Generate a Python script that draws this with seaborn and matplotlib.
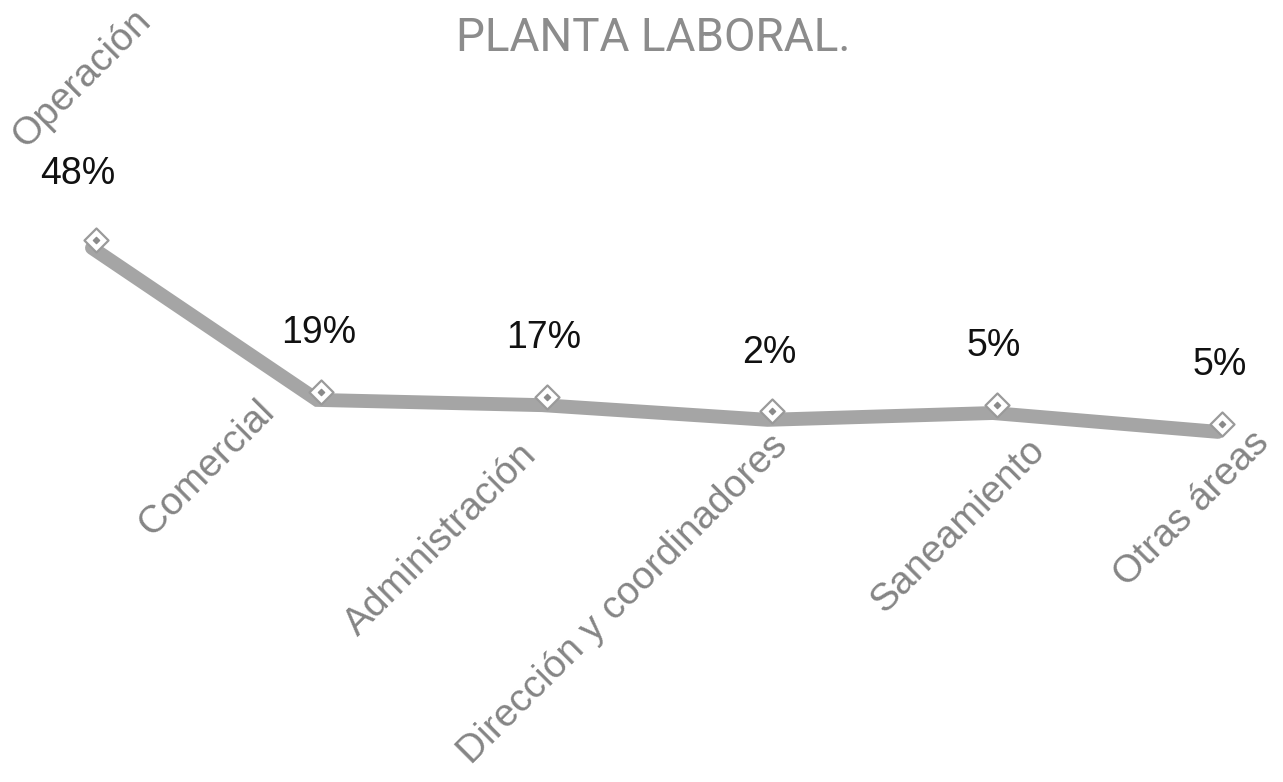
import numpy as np
import pandas as pd
import seaborn as sns
import matplotlib.pyplot as plt
import matplotlib.transforms as mtransforms

# %%
areas = ["Operación", "Comercial", "Administración",
         "Dirección y coordinadores", "Saneamiento", "Otras áreas"]
porcentajes = ["48%", "19%", "17%", "2%", "5%", "5%"]
# altura de la linea tal como se ve en la imagen (no es proporcional a las etiquetas)
nivel = [48, 19, 18, 15.2, 16.5, 12.9]

df = pd.DataFrame({"x": np.arange(len(areas)), "nivel": nivel, "area": areas})

# %%
sns.set_style("white")
fig = plt.figure(figsize=(12.83, 7.82), dpi=100)
ax = fig.add_axes([0, 0, 1, 1])

sns.lineplot(data=df, x="x", y="nivel", ax=ax, color="#a5a5a5", lw=10,
             solid_joinstyle="miter", zorder=2)

# marcadores un poco por encima de la banda (efecto 3d del original)
shift = ax.transData + mtransforms.ScaledTranslation(3 / 72, 6 / 72, fig.dpi_scale_trans)
ax.scatter(df["x"], df["nivel"], marker="D", s=150, color="white",
           edgecolor="#9a9a9a", linewidth=1.6, zorder=3, transform=shift)
ax.scatter(df["x"], df["nivel"], marker="D", s=10, color="#8a8a8a",
           zorder=4, transform=shift)

ax.set_xlim(-0.4085, 5.289)
ax.set_ylim(-53.9, 95.3)
ax.axis("off")

# etiquetas de porcentaje
for i, (p, v) in enumerate(zip(porcentajes, nivel)):
    off = (-10, 53) if i == 0 else (1, 48)
    ax.annotate(p, (i, v), xytext=off, textcoords="offset points",
                ha="center", va="center", fontsize=27, color="#111111",
                family="Liberation Sans")

# etiquetas de categoria giradas
lab_off = [(-44, 67), (-44, 5), (-17, -23), (1, -6), (24, -14), (24, 5)]
for i, (a, v) in enumerate(zip(areas, nivel)):
    if i == 0:
        ha, va = "left", "bottom"
    else:
        ha, va = "right", "top"
    ax.annotate(a, (i, v), xytext=lab_off[i], textcoords="offset points",
                rotation=45, rotation_mode="anchor", ha=ha, va=va,
                fontsize=28, color="#858585", family="Liberation Sans")

fig.text(0.509, 0.951, "PLANTA LABORAL.", ha="center", va="center",
         fontsize=33, color="#8c8c8c", family="Roboto")

fig.savefig("out.png", dpi=100)
